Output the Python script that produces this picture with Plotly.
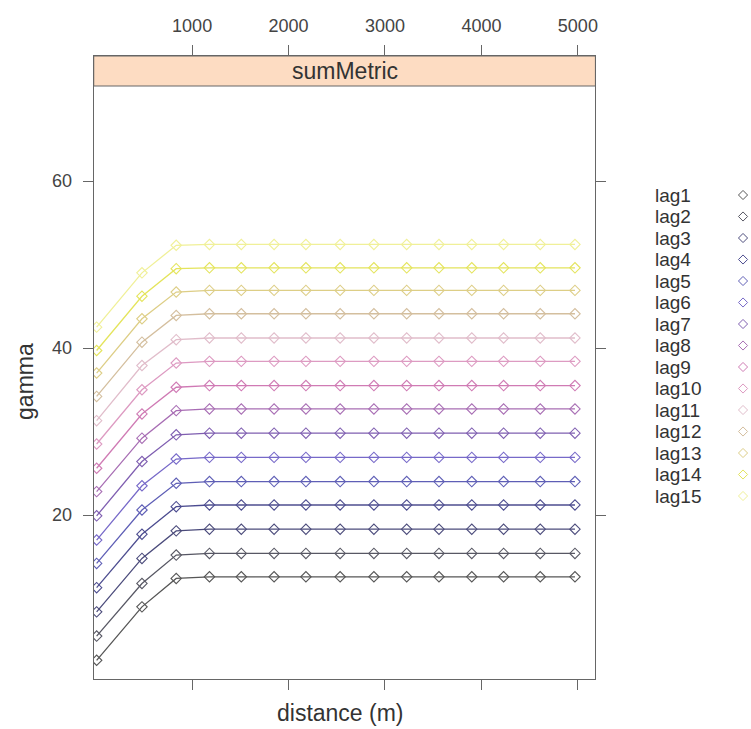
"""Variogram-style lattice panel: gamma vs distance for 15 lags."""

import plotly.graph_objects as go

W, H = 751, 729

distance = [10, 480, 835, 1180, 1510, 1850, 2180, 2535, 2885, 3225, 3560, 3900, 4230, 4610, 4970]

lag_names = [f"lag{i}" for i in range(1, 16)]

lag1 = [2.6, 9.0, 12.4, 12.6, 12.6, 12.6, 12.6, 12.6, 12.6, 12.6, 12.6, 12.6, 12.6, 12.6, 12.6]
lag2 = [5.5, 11.8, 15.2, 15.4, 15.4, 15.4, 15.4, 15.4, 15.4, 15.4, 15.4, 15.4, 15.4, 15.4, 15.4]
lag3 = [8.4, 14.8, 18.1, 18.3, 18.3, 18.3, 18.3, 18.3, 18.3, 18.3, 18.3, 18.3, 18.3, 18.3, 18.3]
lag4 = [11.3, 17.7, 21.0, 21.2, 21.2, 21.2, 21.2, 21.2, 21.2, 21.2, 21.2, 21.2, 21.2, 21.2, 21.2]
lag5 = [14.2, 20.6, 23.8, 24.0, 24.0, 24.0, 24.0, 24.0, 24.0, 24.0, 24.0, 24.0, 24.0, 24.0, 24.0]
lag6 = [17.0, 23.5, 26.7, 26.9, 26.9, 26.9, 26.9, 26.9, 26.9, 26.9, 26.9, 26.9, 26.9, 26.9, 26.9]
lag7 = [19.9, 26.4, 29.6, 29.8, 29.8, 29.8, 29.8, 29.8, 29.8, 29.8, 29.8, 29.8, 29.8, 29.8, 29.8]
lag8 = [22.8, 29.2, 32.5, 32.7, 32.7, 32.7, 32.7, 32.7, 32.7, 32.7, 32.7, 32.7, 32.7, 32.7, 32.7]
lag9 = [25.6, 32.1, 35.3, 35.5, 35.5, 35.5, 35.5, 35.5, 35.5, 35.5, 35.5, 35.5, 35.5, 35.5, 35.5]
lag10 = [28.5, 35.0, 38.2, 38.4, 38.4, 38.4, 38.4, 38.4, 38.4, 38.4, 38.4, 38.4, 38.4, 38.4, 38.4]
lag11 = [31.3, 37.9, 41.0, 41.2, 41.2, 41.2, 41.2, 41.2, 41.2, 41.2, 41.2, 41.2, 41.2, 41.2, 41.2]
lag12 = [34.2, 40.7, 43.9, 44.1, 44.1, 44.1, 44.1, 44.1, 44.1, 44.1, 44.1, 44.1, 44.1, 44.1, 44.1]
lag13 = [37.0, 43.5, 46.7, 46.9, 46.9, 46.9, 46.9, 46.9, 46.9, 46.9, 46.9, 46.9, 46.9, 46.9, 46.9]
lag14 = [39.7, 46.2, 49.5, 49.6, 49.6, 49.6, 49.6, 49.6, 49.6, 49.6, 49.6, 49.6, 49.6, 49.6, 49.6]
lag15 = [42.5, 49.0, 52.3, 52.4, 52.4, 52.4, 52.4, 52.4, 52.4, 52.4, 52.4, 52.4, 52.4, 52.4, 52.4]

gamma_series = [lag1, lag2, lag3, lag4, lag5, lag6, lag7, lag8,
                lag9, lag10, lag11, lag12, lag13, lag14, lag15]

x_ticks = [1000, 2000, 3000, 4000, 5000]
y_ticks = [20, 40, 60]

LAG_COLORS = [
    "#3a3a3a", "#3c3c4a", "#2e2e66", "#30307e", "#4444aa",
    "#6050c0", "#6a44a4", "#9a56a8", "#c865a8", "#d88ab8",
    "#dcb2c2", "#cdb48e", "#d8c672", "#e0e040", "#eeee86",
]

FONT = "Liberation Sans, Arial, sans-serif"
TEXT_COL = "#333333"
AXIS_GREY = "#666666"

# pixel layout of the lattice panel
PANEL_L, PANEL_R = 94, 597
PANEL_T, PANEL_B = 56, 679      # top includes the strip
STRIP_B = 86

fig = go.Figure()

for name, ys, col in zip(lag_names, gamma_series, LAG_COLORS):
    fig.add_trace(go.Scatter(
        x=distance, y=ys, name=name, mode="lines+markers",
        line=dict(color=col, width=1.3),
        marker=dict(symbol="diamond-open", size=8, color=col, line=dict(width=1.1, color=col)),
        opacity=0.85, showlegend=False,
    ))

# legend key: text on the left, symbol on the right (lattice style)
row0, row_step = 195, 21.5
key_y = [row0 + i * row_step for i in range(len(lag_names))]
fig.add_trace(go.Scatter(
    x=[0.8] * len(lag_names), y=key_y, mode="markers", xaxis="x2", yaxis="y2",
    marker=dict(symbol="diamond-open", size=7, color=LAG_COLORS,
                line=dict(width=1, color=LAG_COLORS)),
    opacity=0.85, showlegend=False, hoverinfo="skip",
))

annotations = []
for name, yk in zip(lag_names, key_y):
    annotations.append(dict(
        text=name, x=655 / W, xref="paper", xanchor="left",
        y=yk, yref="y2", yanchor="middle", showarrow=False,
        font=dict(family=FONT, size=19, color=TEXT_COL),
    ))

annotations += [
    dict(text="sumMetric", x=(PANEL_L + PANEL_R) / 2 / W, y=1 - 71 / H,
         xref="paper", yref="paper", xanchor="center", yanchor="middle",
         showarrow=False, font=dict(family=FONT, size=23, color=TEXT_COL)),
    dict(text="gamma", x=25 / W, y=1 - 381 / H, xref="paper", yref="paper",
         xanchor="center", yanchor="middle", textangle=-90, showarrow=False,
         font=dict(family=FONT, size=23, color=TEXT_COL)),
    dict(text="distance (m)", x=341 / W, y=1 - 713 / H,
         xref="paper", yref="paper", xanchor="center", yanchor="middle",
         showarrow=False, font=dict(family=FONT, size=23, color=TEXT_COL)),
]

strip = dict(
    type="rect", xref="paper", yref="paper",
    x0=PANEL_L / W, x1=PANEL_R / W, y0=1 - STRIP_B / H, y1=1 - PANEL_T / H,
    fillcolor="#fddcc2", line=dict(color=AXIS_GREY, width=1), layer="below",
)

axis_common = dict(
    showline=True, linecolor=AXIS_GREY, linewidth=1, mirror="ticks",
    ticks="outside", ticklen=10, tickcolor=AXIS_GREY, tickwidth=1,
    showgrid=False, zeroline=False,
    tickfont=dict(family=FONT, size=18, color="#444444"),
)

fig.update_layout(
    width=W, height=H,
    margin=dict(l=0, r=0, t=0, b=0),
    plot_bgcolor="white", paper_bgcolor="white",
    xaxis=dict(
        domain=[PANEL_L / W, PANEL_R / W], range=[-20, 5182],
        side="top", tickvals=x_ticks, ticklabelstandoff=6, **axis_common,
    ),
    yaxis=dict(
        domain=[1 - PANEL_B / H, 1 - PANEL_T / H], range=[0.36, 74.97],
        tickvals=y_ticks, ticklabelstandoff=7, **axis_common,
    ),
    xaxis2=dict(domain=[721 / W, 1.0], range=[0, 1], visible=False, fixedrange=True),
    yaxis2=dict(domain=[0, 1], range=[H, 0], visible=False, fixedrange=True),
    shapes=[strip],
    annotations=annotations,
)

# the page body has a default 8px margin; drop it so the figure fills the window
fig.write_html(
    "out.html",
    config={"displayModeBar": False},
    post_script="document.body.style.margin = '0';",
)
